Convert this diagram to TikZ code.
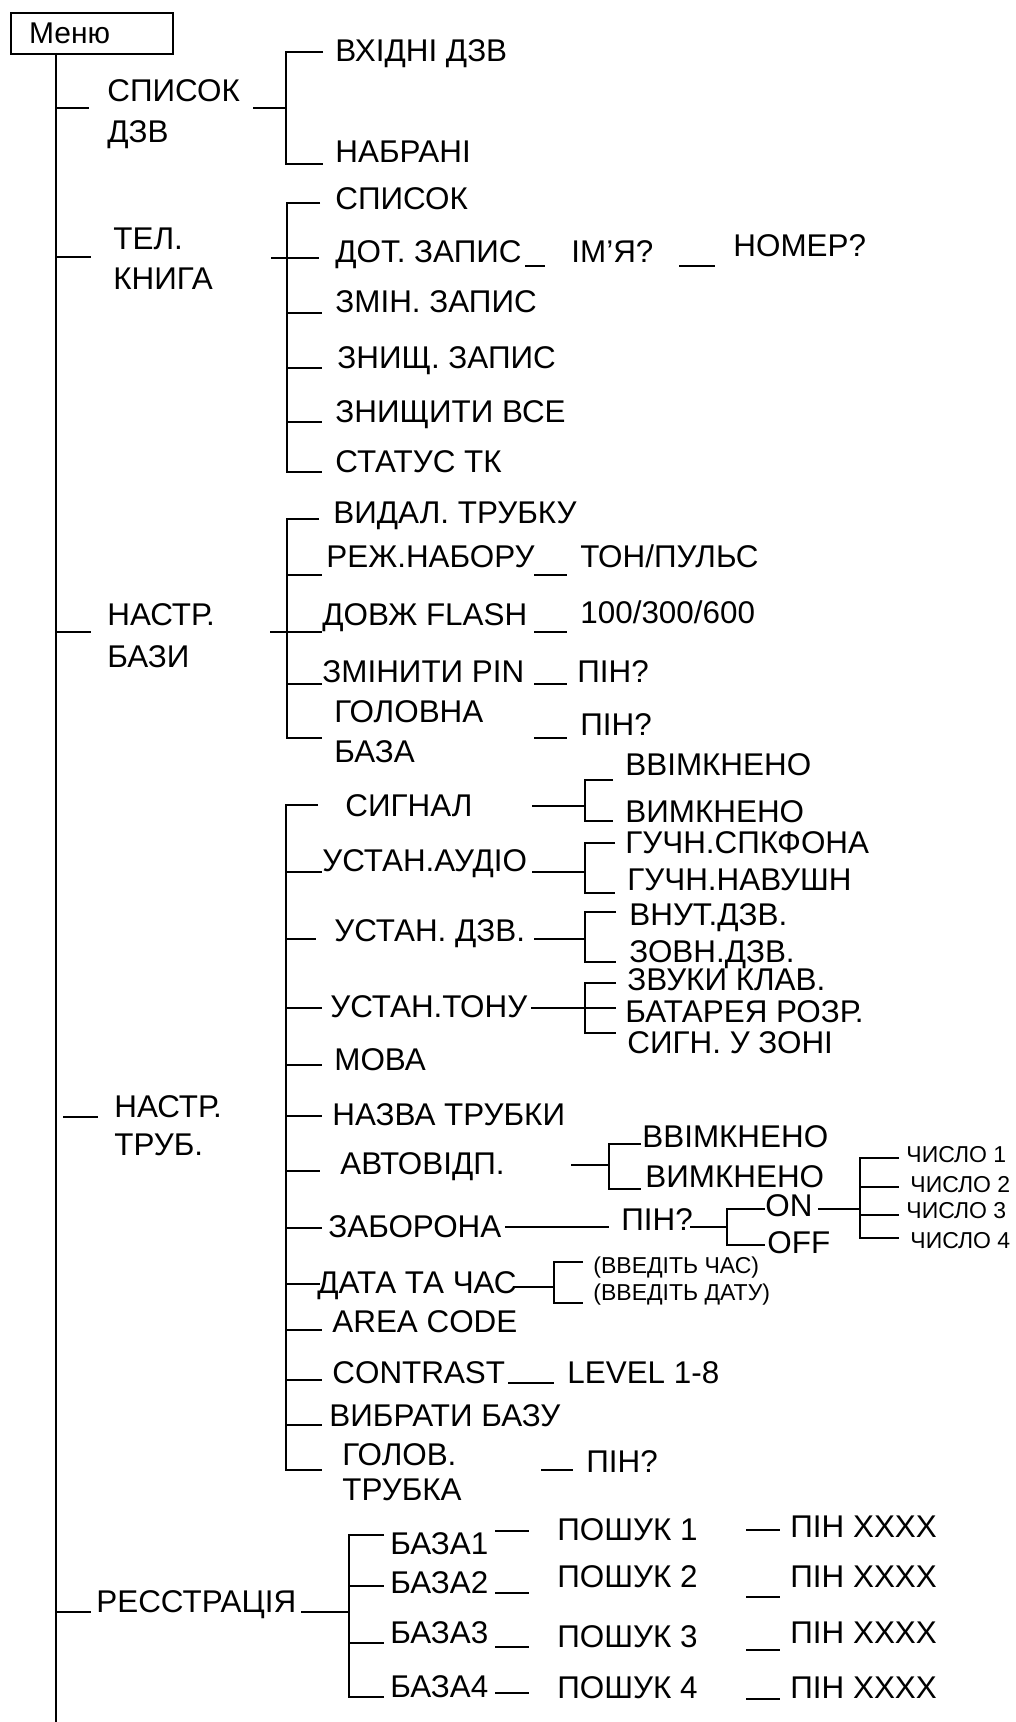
\documentclass[tikz,border=0pt]{standalone}
\usepackage{fontspec}
\setmainfont{Liberation Sans}
\begin{document}
\begin{tikzpicture}[x=0.5pt,y=-0.5pt,
  lbl/.style={inner sep=0pt, anchor=base west, font=\fontsize{15.7}{19}\selectfont},
  sml/.style={inner sep=0pt, anchor=base west, font=\fontsize{11.5}{14}\selectfont},
  ln/.style={line width=1pt, line cap=butt}]
\fill[white] (0,0) rectangle (1016,1722);
\useasboundingbox (0,0) rectangle (1016,1722);

% root
\node[draw, line width=1pt, anchor=north west, minimum width=81pt, minimum height=20.5pt,
      inner xsep=9pt, inner ysep=0pt, text width=63pt, align=left,
      font=\fontsize{15}{18}\selectfont] (menu) at (10,12) {Меню};
\coordinate (root) at (56,53);
\coordinate (rootend) at (56,1722);
\draw[ln] (root) -- (rootend);

% ---------- СПИСОК ДЗВ ----------
\node[lbl] (sp1) at (107,102) {СПИСОК};
\node[lbl] (sp2) at (107,143) {ДЗВ};
\node[lbl] (vkh) at (335,62) {ВХІДНІ ДЗВ};
\node[lbl] (nab) at (335,163) {НАБРАНІ};
\draw[ln] (56,108) -- (89,108);
\draw[ln] (253,108) -- (286,108);
\draw[ln] (323,52) -- (286,52) -- (286,164) -- (323,164);

% ---------- ТЕЛ. КНИГА ----------
\node[lbl] (tk1) at (113,250) {ТЕЛ.};
\node[lbl] (tk2) at (113,290) {КНИГА};
\draw[ln] (56,257) -- (91,257);
\node[lbl] (tsp) at (335,210) {СПИСОК};
\node[lbl] (dot) at (335,263) {ДОТ. ЗАПИС};
\node[lbl] (imya) at (571,263) {ІМ’Я?};
\node[lbl] (nom) at (733,257) {НОМЕР?};
\node[lbl] (zmin) at (335,313) {ЗМІН. ЗАПИС};
\node[lbl] (znz) at (337,368) {ЗНИЩ. ЗАПИС};
\node[lbl] (znv) at (335,422) {ЗНИЩИТИ ВСЕ};
\node[lbl] (stk) at (335,472) {СТАТУС ТК};
\draw[ln] (320,203) -- (287,203) -- (287,472) -- (322,472);
\draw[ln] (271,258) -- (319,258);
\draw[ln] (287,313) -- (322,313);
\draw[ln] (287,368) -- (322,368);
\draw[ln] (287,422) -- (322,422);
\draw[ln] (525,266) -- (545,266);
\draw[ln] (679,266) -- (715,266);

% ---------- НАСТР. БАЗИ ----------
\node[lbl] (nb1) at (107,625) {НАСТР.};
\node[lbl] (nb2) at (107,667) {БАЗИ};
\draw[ln] (56,632) -- (91,632);
\node[lbl] (vid) at (333,523) {ВИДАЛ. ТРУБКУ};
\node[lbl] (rezh) at (326,567) {РЕЖ.НАБОРУ};
\node[lbl] (ton) at (580,567) {ТОН/ПУЛЬС};
\node[lbl] (dovzh) at (322,625) {ДОВЖ FLASH};
\node[lbl] (fl) at (580,623) {100/300/600};
\node[lbl] (zpin) at (322,682) {ЗМІНИТИ PIN};
\node[lbl] (pin1) at (577,682) {ПІН?};
\node[lbl] (gb1) at (334,722) {ГОЛОВНА};
\node[lbl] (gb2) at (334,762) {БАЗА};
\node[lbl] (pin2) at (580,735) {ПІН?};
\draw[ln] (319,519) -- (287,519) -- (287,738) -- (322,738);
\draw[ln] (287,575) -- (322,575);
\draw[ln] (534,575) -- (567,575);
\draw[ln] (270,632) -- (322,632);
\draw[ln] (534,632) -- (567,632);
\draw[ln] (287,684) -- (322,684);
\draw[ln] (534,684) -- (567,684);
\draw[ln] (534,738) -- (567,738);

% ---------- НАСТР. ТРУБ. ----------
\node[lbl] (nt1) at (114,1117) {НАСТР.};
\node[lbl] (nt2) at (114,1155) {ТРУБ.};
\draw[ln] (63,1117) -- (98,1117);
\draw[ln] (318,805) -- (286,805) -- (286,1470) -- (322,1470);

\node[lbl] (sig) at (345,816) {СИГНАЛ};
\node[lbl] (von1) at (625,775) {ВВІМКНЕНО};
\node[lbl] (voff1) at (625,822) {ВИМКНЕНО};
\draw[ln] (532,806) -- (585,806);
\draw[ln] (613,780) -- (585,780) -- (585,821) -- (613,821);

\node[lbl] (aud) at (322,871) {УСТАН.АУДІО};
\node[lbl] (gsp) at (625,853) {ГУЧН.СПКФОНА};
\node[lbl] (gna) at (627,890) {ГУЧН.НАВУШН};
\draw[ln] (286,872) -- (322,872);
\draw[ln] (532,872) -- (585,872);
\draw[ln] (615,843) -- (585,843) -- (585,893) -- (615,893);

\node[lbl] (udzv) at (334,941) {УСТАН. ДЗВ.};
\node[lbl] (vnut) at (629,925) {ВНУТ.ДЗВ.};
\node[lbl] (zovn) at (629,962) {ЗОВН.ДЗВ.};
\draw[ln] (286,939) -- (316,939);
\draw[ln] (534,939) -- (585,939);
\draw[ln] (616,912) -- (585,912) -- (585,962) -- (616,962);

\node[lbl] (uton) at (330,1017) {УСТАН.ТОНУ};
\node[lbl] (zvk) at (627,990) {ЗВУКИ КЛАВ.};
\node[lbl] (bat) at (625,1022) {БАТАРЕЯ РОЗР.};
\node[lbl] (szon) at (627,1053) {СИГН. У ЗОНІ};
\draw[ln] (286,1008) -- (322,1008);
\draw[ln] (531,1008) -- (616,1008);
\draw[ln] (616,983) -- (585,983) -- (585,1033) -- (616,1033);

\node[lbl] (mova) at (334,1070) {МОВА};
\draw[ln] (286,1065) -- (322,1065);
\node[lbl] (nazva) at (332,1125) {НАЗВА ТРУБКИ};
\draw[ln] (286,1116) -- (322,1116);

\node[lbl] (avt) at (340,1174) {АВТОВІДП.};
\node[lbl] (von2) at (642,1147) {ВВІМКНЕНО};
\node[lbl] (voff2) at (645,1187) {ВИМКНЕНО};
\draw[ln] (286,1171) -- (320,1171);
\draw[ln] (571,1165) -- (609,1165);
\draw[ln] (641,1144) -- (609,1144) -- (609,1189) -- (641,1189);

\node[lbl] (zab) at (328,1237) {ЗАБОРОНА};
\node[lbl] (pin3) at (621,1230) {ПІН?};
\node[lbl] (on) at (765,1216) {ON};
\node[lbl] (off) at (767,1253) {OFF};
\draw[ln] (286,1228) -- (322,1228);
\draw[ln] (505,1227) -- (609,1227);
\draw[ln] (690,1227) -- (727,1227);
\draw[ln] (765,1209) -- (727,1209) -- (727,1245) -- (765,1245);
\node[sml] (ch1) at (906,1162) {ЧИСЛО 1};
\node[sml] (ch2) at (910,1192) {ЧИСЛО 2};
\node[sml] (ch3) at (906,1218) {ЧИСЛО 3};
\node[sml] (ch4) at (910,1248) {ЧИСЛО 4};
\draw[ln] (818,1209) -- (860,1209);
\draw[ln] (899,1158) -- (860,1158) -- (860,1238) -- (899,1238);
\draw[ln] (860,1187) -- (899,1187);
\draw[ln] (860,1215) -- (899,1215);

\node[lbl] (data) at (317,1293) {ДАТА ТА ЧАС};
\node[sml] (vch) at (593,1273) {(ВВЕДІТЬ ЧАС)};
\node[sml] (vdt) at (593,1300) {(ВВЕДІТЬ ДАТУ)};
\draw[ln] (286,1284) -- (320,1284);
\draw[ln] (513,1287) -- (554,1287);
\draw[ln] (583,1262) -- (554,1262) -- (554,1303) -- (583,1303);

\node[lbl] (area) at (332,1332) {AREA CODE};
\draw[ln] (286,1330) -- (322,1330);
\node[lbl] (contr) at (332,1383) {CONTRAST};
\node[lbl] (lev) at (567,1383) {LEVEL 1-8};
\draw[ln] (286,1380) -- (322,1380);
\draw[ln] (508,1383) -- (554,1383);
\node[lbl] (vyb) at (329,1426) {ВИБРАТИ БАЗУ};
\draw[ln] (286,1425) -- (322,1425);
\node[lbl] (gt1) at (342,1465) {ГОЛОВ.};
\node[lbl] (gt2) at (342,1500) {ТРУБКА};
\node[lbl] (pin4) at (586,1472) {ПІН?};
\draw[ln] (541,1470) -- (573,1470);

% ---------- РЕЄСТРАЦІЯ ----------
\node[lbl] (reg) at (96,1612) {РЕССТРАЦІЯ};
\draw[ln] (56,1612) -- (91,1612);
\draw[ln] (301,1612) -- (349,1612);
\draw[ln] (384,1535) -- (349,1535) -- (349,1697) -- (384,1697);
\draw[ln] (349,1586) -- (384,1586);
\draw[ln] (349,1643) -- (384,1643);
\node[lbl] (b1) at (390,1554) {БАЗА1};
\node[lbl] (b2) at (390,1593) {БАЗА2};
\node[lbl] (b3) at (390,1643) {БАЗА3};
\node[lbl] (b4) at (390,1697) {БАЗА4};
\draw[ln] (495,1531) -- (529,1531);
\draw[ln] (495,1593) -- (529,1593);
\draw[ln] (495,1647) -- (529,1647);
\draw[ln] (495,1693) -- (529,1693);
\node[lbl] (p1) at (557,1540) {ПОШУК 1};
\node[lbl] (p2) at (557,1587) {ПОШУК 2};
\node[lbl] (p3) at (557,1647) {ПОШУК 3};
\node[lbl] (p4) at (557,1698) {ПОШУК 4};
\draw[ln] (746,1530) -- (780,1530);
\draw[ln] (746,1597) -- (780,1597);
\draw[ln] (746,1650) -- (780,1650);
\draw[ln] (746,1699) -- (780,1699);
\node[lbl] (px1) at (790,1537) {ПІН XXXX};
\node[lbl] (px2) at (790,1587) {ПІН XXXX};
\node[lbl] (px3) at (790,1643) {ПІН XXXX};
\node[lbl] (px4) at (790,1698) {ПІН XXXX};
\end{tikzpicture}
\end{document}
